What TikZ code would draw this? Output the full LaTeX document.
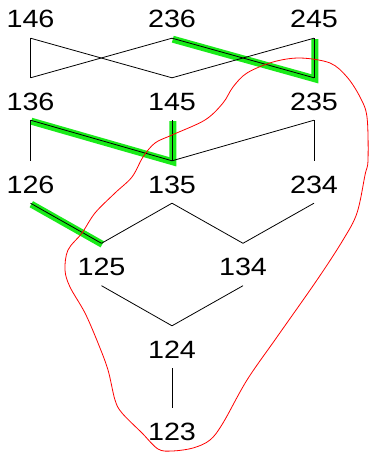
\documentclass[tikz,border=0pt]{standalone}
\usepackage{fontspec}
\setmainfont{Liberation Sans}
\newcommand\lbltxt[1]{\scalebox{1.15}[1]{#1}}
\definecolor{hlgreen}{RGB}{25,235,25}
\begin{document}
\begin{tikzpicture}[x=1pt,y=-1pt,
  lbl/.style={inner sep=0pt, minimum height=42pt, text height=22pt, text depth=0pt,
    font=\fontsize{25}{25}\selectfont},
  edge/.style={draw=black, line width=0.8pt},
  hl/.style={draw=hlgreen, line width=7pt, transform canvas={shift={(0.8pt,-1pt)}}},
  ring/.style={draw=red, line width=0.8pt}]
\useasboundingbox[fill=white] (0,0) rectangle (368,452);
% nodes
\node[lbl] (n146) at (30.5,17) {\lbltxt{146}};
\node[lbl] (n236) at (172,17) {\lbltxt{236}};
\node[lbl] (n245) at (314,17) {\lbltxt{245}};
\node[lbl] (n136) at (30.5,99) {\lbltxt{136}};
\node[lbl] (n145) at (172,99) {\lbltxt{145}};
\node[lbl] (n235) at (314,99) {\lbltxt{235}};
\node[lbl] (n126) at (30.5,182) {\lbltxt{126}};
\node[lbl] (n135) at (172,182) {\lbltxt{135}};
\node[lbl] (n234) at (314,182) {\lbltxt{234}};
\node[lbl] (n125) at (101.5,264.5) {\lbltxt{125}};
\node[lbl] (n134) at (243,264.5) {\lbltxt{134}};
\node[lbl] (n124) at (172,347) {\lbltxt{124}};
\node[lbl] (n123) at (172,429) {\lbltxt{123}};
% highlighted edges
\draw[hl] (n236.south) -- (n235.north) -- (n245.south);
\draw[hl] (n136.south) -- (n135.north) -- (n145.south);
\draw[hl] (n126.south) -- (n125.north);
% edges
\draw[edge] (n146.south) -- (n136.north);
\draw[edge] (n146.south) -- (n145.north);
\draw[edge] (n236.south) -- (n136.north);
\draw[edge] (n236.south) -- (n235.north);
\draw[edge] (n245.south) -- (n145.north);
\draw[edge] (n245.south) -- (n235.north);
\draw[edge] (n136.south) -- (n126.north);
\draw[edge] (n136.south) -- (n135.north);
\draw[edge] (n145.south) -- (n135.north);
\draw[edge] (n235.south) -- (n135.north);
\draw[edge] (n235.south) -- (n234.north);
\draw[edge] (n126.south) -- (n125.north);
\draw[edge] (n135.south) -- (n125.north);
\draw[edge] (n135.south) -- (n134.north);
\draw[edge] (n234.south) -- (n134.north);
\draw[edge] (n125.south) -- (n124.north);
\draw[edge] (n134.south) -- (n124.north);
\draw[edge] (n124.south) -- (n123.north);
% red closed curve
\draw[ring] plot[smooth cycle, tension=0.55] coordinates {
 (300,58) (330,63) (347,77) (360,97) (367,117) (368,160) (365,175) (357,213)
 (343,240) (317,280) (277,337) (247,380) (223,423) (210,440) (193,448) (172,451)
 (158,449) (142,433) (122,413) (115,400) (108,370) (98,343) (85,313) (70,287)
 (65,270) (68,250) (82,233) (95,213) (115,193) (132,177) (143,157) (155,143)
 (172,135) (205,120) (223,103) (233,87) (247,73) (273,62)};
\end{tikzpicture}
\end{document}
